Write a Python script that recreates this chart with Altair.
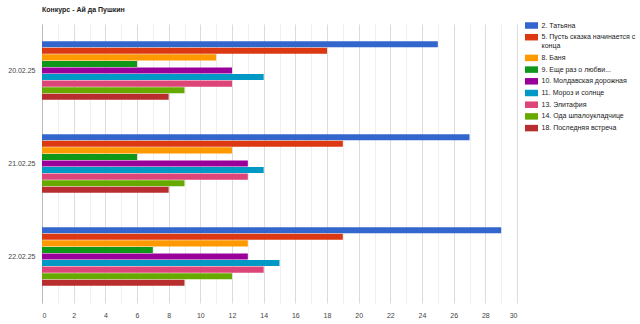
import altair as alt
import pandas as pd

dates = ["20.02.25", "21.02.25", "22.02.25"]
series = [
    "2. Татьяна",
    "5. Пусть сказка начинается с конца",
    "8. Баня",
    "9. Еще раз о любви...",
    "10. Молдавская дорожная",
    "11. Мороз и солнце",
    "13. Элитафия",
    "14. Ода шпалоукладчице",
    "18. Последняя встреча",
]
colors = ["#3366cc", "#dc3912", "#ff9900", "#109618", "#990099",
          "#0099c6", "#dd4477", "#66aa00", "#b82e2e"]
values = {
    "20.02.25": [25, 18, 11, 6, 12, 14, 12, 9, 8],
    "21.02.25": [27, 19, 12, 6, 13, 14, 13, 9, 8],
    "22.02.25": [29, 19, 13, 7, 13, 15, 14, 12, 9],
}

rows = []
for d in dates:
    for s, v in zip(series, values[d]):
        rows.append({"date": d, "series": s, "value": v})
df = pd.DataFrame(rows)

font = "Arial, Liberation Sans, sans-serif"

bars = alt.Chart(df).mark_bar().encode(
    x=alt.X("value:Q",
            scale=alt.Scale(domain=[0, 30], nice=False),
            axis=alt.Axis(title=None, values=list(range(0, 31)),
                          labelExpr="datum.value % 2 == 0 ? datum.label : ''",
                          ticks=False, domain=False, labelPadding=8,
                          labelFontSize=7, labelColor="#444", labelFont=font,
                          gridColor={"condition": {"test": "datum.value % 2 == 0", "value": "#dcdcdc"}, "value": "#efefef"})),
    y=alt.Y("date:N", sort=dates,
            scale=alt.Scale(paddingInner=0.37, paddingOuter=0.185),
            axis=alt.Axis(title=None, ticks=False, domain=True, domainColor="#bbbbbb",
                          labelFontSize=7, labelColor="#444", labelFont=font,
                          labelPadding=7, grid=False)),
    yOffset=alt.YOffset("series:N", sort=series, scale=alt.Scale(paddingInner=0.08)),
    color=alt.Color("series:N", sort=series,
                    scale=alt.Scale(domain=series, range=colors),
                    legend=alt.Legend(
                        title=None, orient="none", legendX=486, legendY=-2,
                        symbolType="M-2,-1H2V1H-2Z", symbolSize=42.25,
                        symbolStrokeWidth=0, labelFontSize=7, labelColor="#222",
                        labelFont=font, rowPadding=3.7, labelOffset=6.5,
                        labelLimit=120,
                        labelExpr="datum.label == '5. Пусть сказка начинается с конца' ? ['5. Пусть сказка начинается с', 'конца'] : datum.label")),
)

chart = bars.properties(
    width=475, height=279,
    title=alt.TitleParams("Конкурс - Ай да Пушкин", anchor="start", frame="group",
                          fontSize=7, fontWeight="bold", color="#222", font=font, offset=9),
    autosize=alt.AutoSizeParams(type="none"),
    padding={"left": 42, "top": 24, "right": 123, "bottom": 21},
).configure_view(stroke=None)

chart.save("out.html", embed_options={"renderer": "svg", "actions": False})
